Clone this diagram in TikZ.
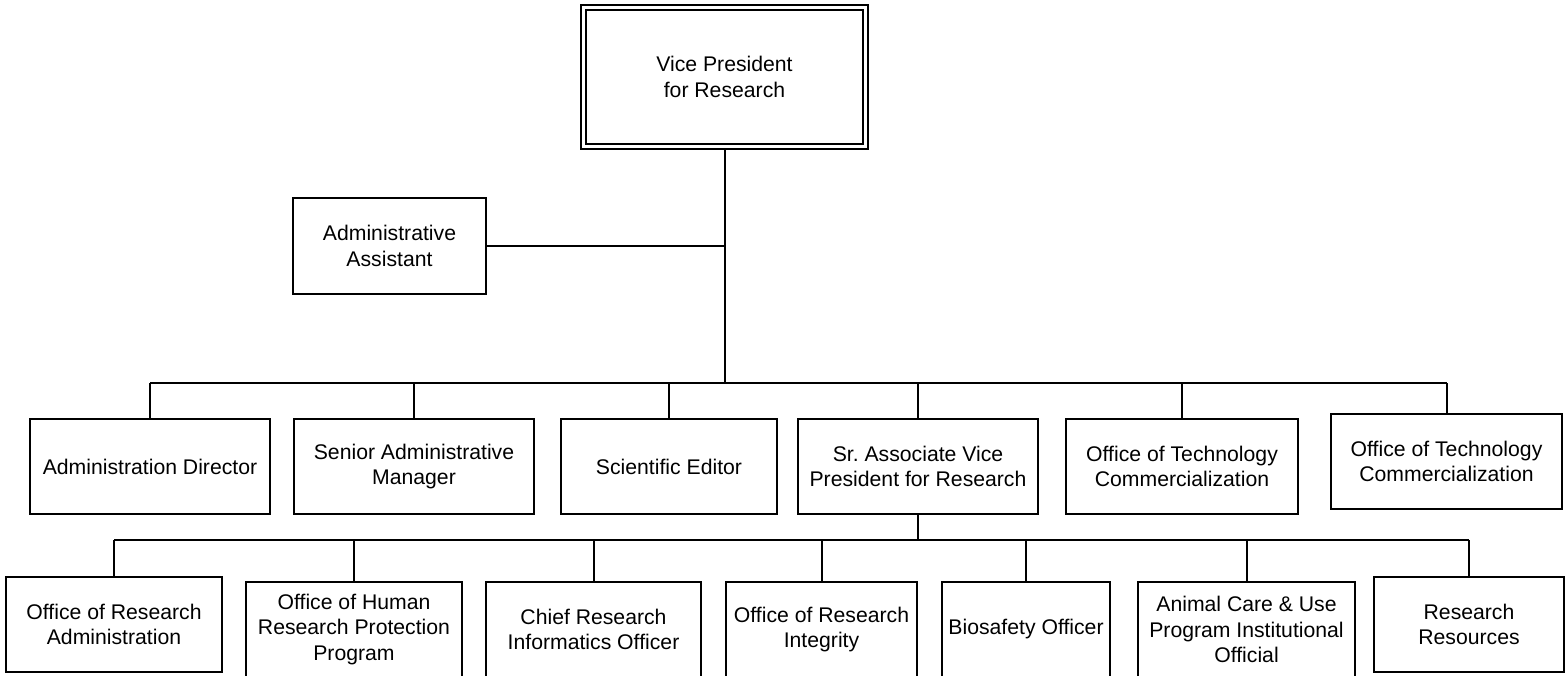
\documentclass[tikz,border=0pt]{standalone}
\usepackage{fontspec}
\setmainfont{Liberation Sans}
\frenchspacing
\begin{document}
\begin{tikzpicture}[x=0.5pt,y=-0.5pt,
  every node/.style={font=\fontsize{10.6}{12.8}\selectfont},
  box/.style={draw, line width=1pt, rectangle, align=center, inner sep=2pt, outer sep=0pt},
  topbox/.style={box, double, double distance=1.5pt, outer sep=1.75pt},
  link/.style={line width=1pt}]
\useasboundingbox (0,0) rectangle (1567,675);

% top
\node[topbox, minimum width=141pt, minimum height=69.5pt] (VP) at (724.5,77) {Vice President\\for Research};
\node[box, minimum width=96.5pt, minimum height=48pt] (AA) at (389.5,246) {Administrative\\Assistant};

% level 2
\node[box, minimum width=120pt, minimum height=47.5pt] (AD) at (150,466.5) {Administration Director};
\node[box, minimum width=120pt, minimum height=47.5pt] (SAM) at (414,466.5) {Senior Administrative\\Manager};
\node[box, minimum width=108pt, minimum height=47.5pt] (SE) at (669,466.5) {Scientific Editor};
\node[box, minimum width=120pt, minimum height=47.5pt] (SAVP) at (918,466.5) {Sr.\ Associate Vice\\President for Research};
\node[box, minimum width=116pt, minimum height=47.5pt] (OTCa) at (1182,466.5) {Office of Technology\\Commercialization};
\node[box, minimum width=115.5pt, minimum height=47.5pt] (OTCb) at (1446.5,461.5) {Office of Technology\\Commercialization};

% level 3
\node[box, minimum width=108pt, minimum height=47.5pt] (ORA) at (114,624.5) {Office of Research\\Administration};
\node[box, minimum width=108pt, minimum height=47.5pt] (OHRPP) at (354,629.5) {Office of Human\\Research Protection\\Program};
\node[box, minimum width=107.5pt, minimum height=47.5pt] (CRIO) at (593.5,629.5) {Chief Research\\Informatics Officer};
\node[box, minimum width=95.5pt, minimum height=47.5pt] (ORI) at (821.5,629.5) {Office of Research\\Integrity};
\node[box, minimum width=84pt, minimum height=47.5pt] (BIO) at (1026,629.5) {Biosafety Officer};
\node[box, minimum width=108.5pt, minimum height=47.5pt] (ACU) at (1246.5,629.5) {Animal Care \& Use\\Program Institutional\\Official};
\node[box, minimum width=95pt, minimum height=47.5pt] (RR) at (1469,624.5) {Research\\Resources};

% junctions
\coordinate (j2) at (724.5,383);
\coordinate (j3) at (918,540);

% connectors
\draw[link] (VP.south) -- (j2);
\draw[link] (AA.east) -- (AA.east -| VP.south);
\draw[link] (AD.north |- j2) -- (OTCb.north |- j2);
\foreach \n in {AD,SAM,SE,SAVP,OTCa,OTCb}
  \draw[link] (\n.north) -- (\n.north |- j2);
\draw[link] (SAVP.south) -- (j3);
\draw[link] (ORA.north |- j3) -- (RR.north |- j3);
\foreach \n in {ORA,OHRPP,CRIO,ORI,BIO,ACU,RR}
  \draw[link] (\n.north) -- (\n.north |- j3);
\end{tikzpicture}
\end{document}
